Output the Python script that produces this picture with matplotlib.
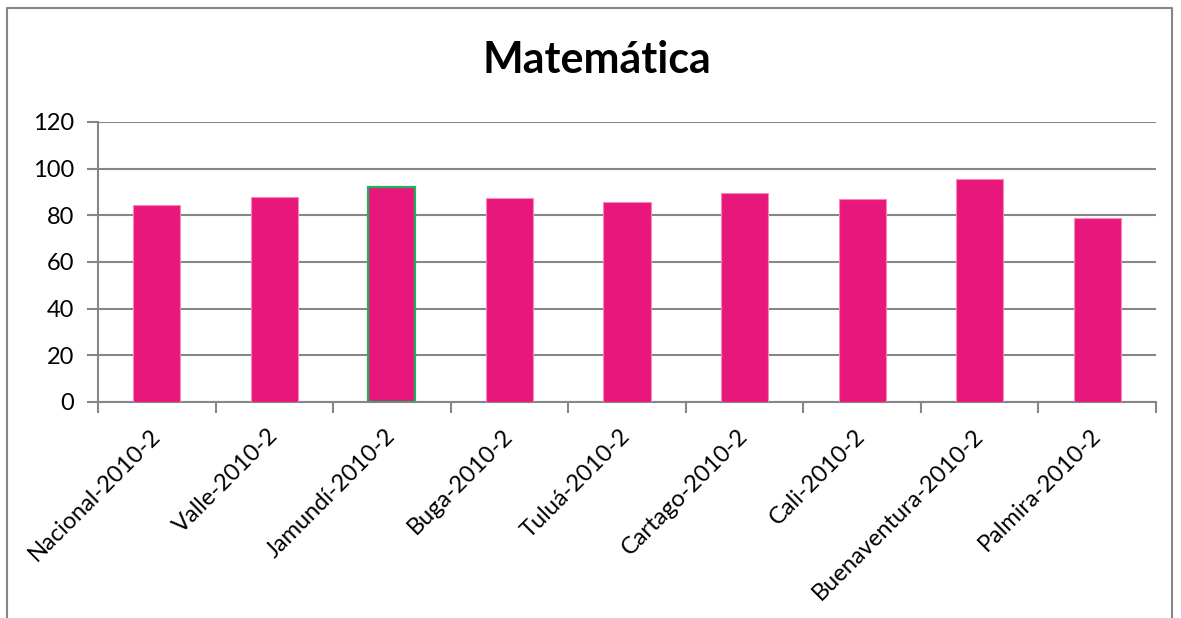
import numpy as np
import matplotlib
matplotlib.use('Agg')
import matplotlib.pyplot as plt
from matplotlib.lines import Line2D

categories = ['Nacional-2010-2', 'Valle-2010-2', 'Jamundí-2010-2', 'Buga-2010-2',
              'Tuluá-2010-2', 'Cartago-2010-2', 'Cali-2010-2',
              'Buenaventura-2010-2', 'Palmira-2010-2']
values = [84.5, 88.0, 92.3, 87.6, 85.6, 89.5, 87.0, 95.5, 79.0]
yticks = [0, 20, 40, 60, 80, 100, 120]

plt.rcParams['font.family'] = ['Lato', 'DejaVu Sans']

W, H = 1181, 618
fig = plt.figure(figsize=(W / 100, H / 100), dpi=100)
fig.patch.set_facecolor('white')

ax = fig.add_axes([98 / W, 1 - 402 / H, (1156 - 98) / W, (402 - 122) / H])

x = np.arange(len(categories))
bars = ax.bar(x, values, width=0.4, color='#E8177C', edgecolor='#F38AB8',
              linewidth=0.8, zorder=3)
# the selected bar in the original has a green outline
bars[2].set_edgecolor('#1FB25A')
bars[2].set_linewidth(1.6)

ax.set_xlim(-0.5, len(categories) - 0.5)
ax.set_ylim(0, 120)
ax.set_yticks(yticks)
ax.set_yticklabels([str(v) for v in yticks], fontsize=17)
ax.grid(axis='y', color='#868686', linewidth=1.5, zorder=0)

ax.set_xticks(x)
ax.set_xticklabels(categories, rotation=45, ha='right', va='center',
                   rotation_mode='anchor', fontsize=17)
ax.set_xticks(np.arange(len(categories) + 1) - 0.5, minor=True)
ax.tick_params(axis='x', which='major', length=0, pad=22)
ax.tick_params(axis='x', which='minor', length=8, width=1.5, color='#868686')
ax.tick_params(axis='y', length=8, width=1.5, color='#868686', pad=9)

for s in ['top', 'right']:
    ax.spines[s].set_visible(False)
for s in ['left', 'bottom']:
    ax.spines[s].set_color('#868686')
    ax.spines[s].set_linewidth(1.5)

fig.text(597 / W, 1 - 60 / H, 'Matemática', ha='center', va='center',
         fontsize=31, fontweight='bold')

# chart area border (left, top, right)
bx0, bx1, by = 7 / W, 1172 / W, 1 - 8 / H
fig.add_artist(Line2D([bx0, bx0, bx1, bx1], [0, by, by, 0],
                      transform=fig.transFigure, color='#868686', linewidth=1.5))

fig.savefig('out.png', dpi=100)
